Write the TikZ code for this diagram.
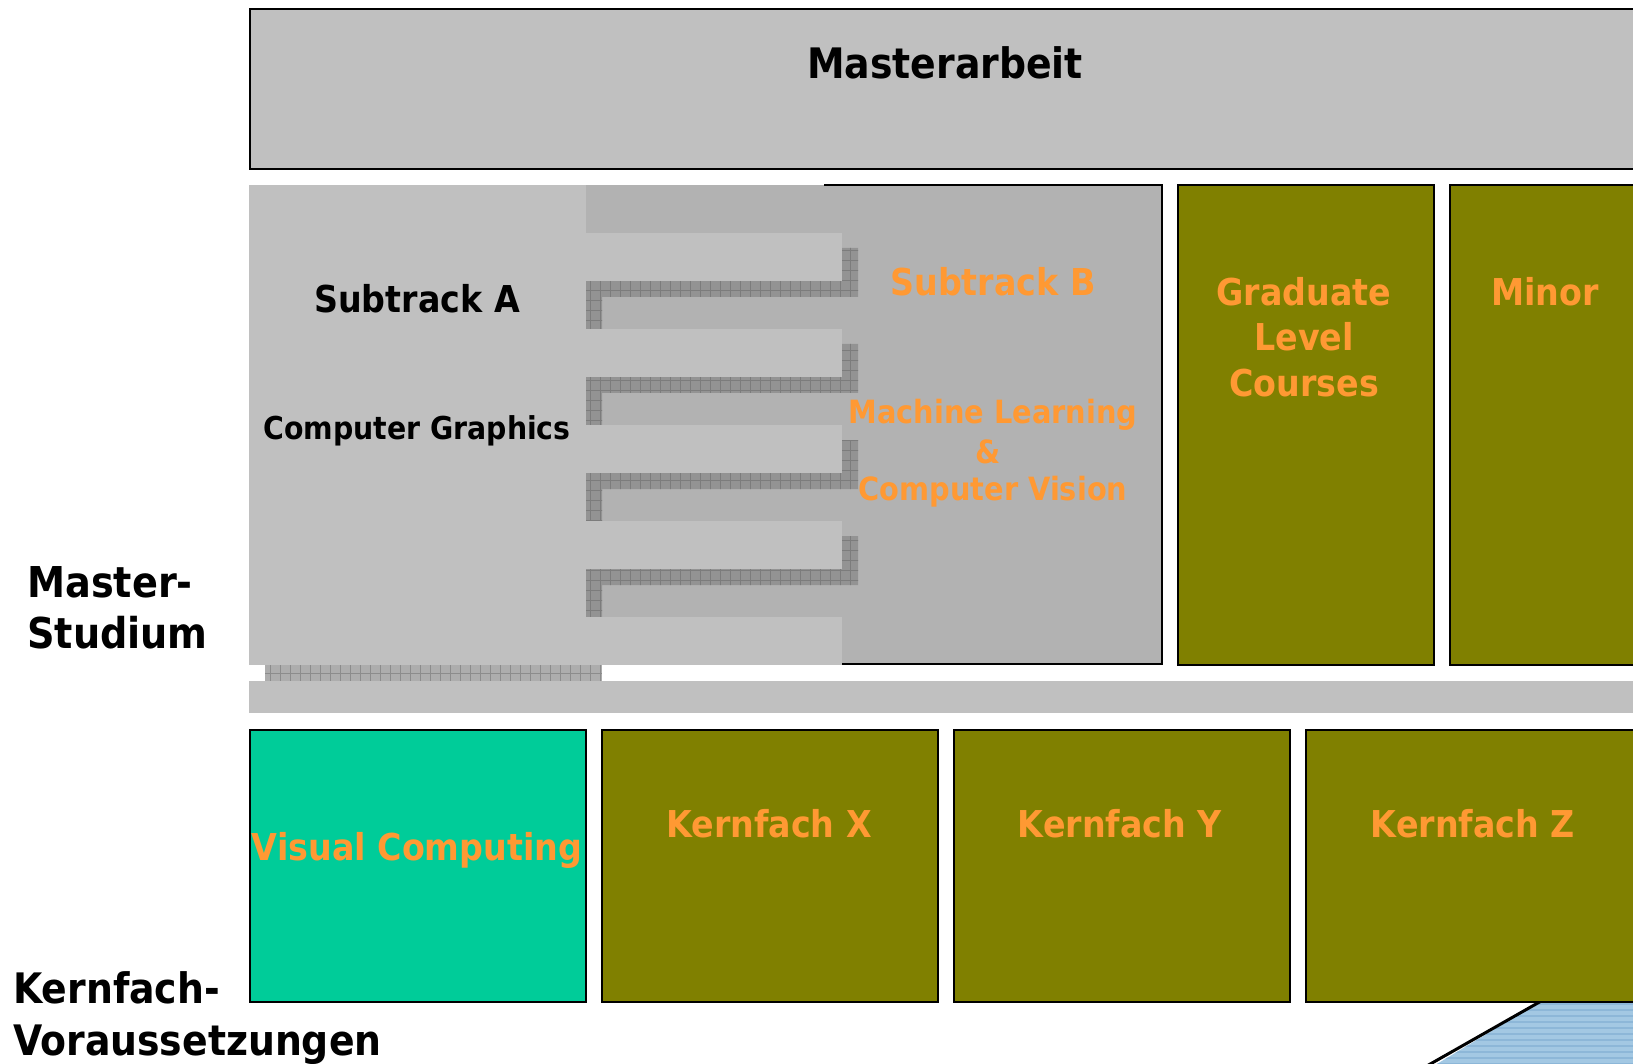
\documentclass[tikz,border=0pt]{standalone}
\usepackage{fontspec}
\newfontfamily\labfont[FakeStretch=0.9,BoldFont={DejaVu Sans Bold}]{DejaVu Sans}
\definecolor{panelgray}{HTML}{C0C0C0}
\definecolor{trackb}{HTML}{B2B2B2}
\definecolor{olivebox}{HTML}{808000}
\definecolor{tealbox}{HTML}{00CC99}
\definecolor{labelorange}{HTML}{FF9933}
\definecolor{shadowgray}{HTML}{939393}
\definecolor{shadowline}{HTML}{7C7C7C}
\definecolor{stripgray}{HTML}{ADADAD}
\definecolor{stripline}{HTML}{8C8C8C}
\definecolor{wedgeblue}{HTML}{A3C8E3}
\definecolor{wedgestripe}{HTML}{8DB7D8}

% L-shaped hatched shadow below and right of a comb finger whose top edge is at #1
\newcommand\fingershadow[1]{%
  \begin{scope}
    \path[clip] (586,#1+48) rectangle (602,#1+96)
                (602,#1+48) rectangle (858,#1+64)
                (842,#1+15) rectangle (858,#1+48);
    \fill[shadowgray] (580,#1) rectangle (870,#1+100);
    \draw[shadowline, line width=0.7pt, step=10pt] (580,#1) grid (870,#1+100);
  \end{scope}}

\tikzset{
  box/.style={draw=black, line width=1.6pt, anchor=north west, inner sep=0pt},
  lab/.style={font=\labfont\bfseries\fontsize{#1}{#1}\selectfont, inner sep=0pt, anchor=base},
  darklab/.style={lab=#1, text=black},
  orangelab/.style={lab=#1, text=labelorange},
  finger/.style={fill=panelgray},
}

\begin{document}
\begin{tikzpicture}[x=1pt,y=-1pt]
\path[use as bounding box] (0,0) rectangle (1633,1064);
\clip (0,0) rectangle (1633,1064);
\fill[white] (0,0) rectangle (1633,1064);

% blue wedge at the lower right
\begin{scope}
  \path[clip] (1541,1001) -- (1640,1001) -- (1640,1070) -- (1427,1070) -- cycle;
  \fill[wedgeblue] (1420,995) rectangle (1640,1070);
  \foreach \s in {1004,1010,...,1066}
    \draw[wedgestripe, line width=2pt] (1420,\s) -- (1640,\s);
\end{scope}
\draw[black, line width=3pt] (1543,1000) -- (1425,1067);

% thesis
\node[box, fill=panelgray, minimum width=1391pt, minimum height=160pt] (thesisbox) at (249,8) {};
\node[darklab=42] (thesis) at (945,79) {Masterarbeit};

% subtrack B area and its frame
\fill[trackb] (586,185) rectangle (1162,664);
\draw[black, line width=1.6pt] (824,185) -- (1162,185) -- (1162,664) -- (824,664);

% subtrack A body and its interlocking fingers
\fill[panelgray] (249,185) rectangle (586,665);
\foreach \t in {233,329,425,521}
  \fingershadow{\t};
\foreach \t in {233,329,425,521,617}
  \fill[finger] (586,\t) rectangle (842,\t+48);
\draw[black, line width=1.6pt] (842,664) -- (1162,664);

% hatched strip under subtrack A
\fill[stripgray] (265,665) rectangle (602,681);
\draw[stripline, line width=0.7pt] (265,673) -- (602,673);
\foreach \s in {270,280,...,600}
  \draw[stripline, line width=0.7pt] (\s,665) -- (\s,681);

\node[darklab=37] (suba) at (417,313) {Subtrack A};
\node[darklab=31.5] (subacg) at (417,439) {Computer Graphics};
\node[orangelab=37] (subb) at (993,296) {Subtrack B};
\node[orangelab=32] (subbml) at (993,423) {Machine Learning};
\node[orangelab=32] (subbamp) at (988,463) {\&};
\node[orangelab=32] (subbcv) at (993,500) {Computer Vision};

% graduate courses and minor
\node[box, fill=olivebox, minimum width=256pt, minimum height=480pt] (gradbox) at (1177,184) {};
\node[orangelab=37] (grad1) at (1304,306) {Graduate};
\node[orangelab=37] (grad2) at (1304,351) {Level};
\node[orangelab=37] (grad3) at (1304,396) {Courses};
\node[box, fill=olivebox, minimum width=200pt, minimum height=480pt] (minorbox) at (1449,184) {};
\node[orangelab=37] (minor) at (1545,306) {Minor};

% separating bar
\fill[panelgray] (249,681) rectangle (1640,713);

% core subjects
\node[box, fill=tealbox, minimum width=336pt, minimum height=272pt] (vcbox) at (249,729) {};
\node[box, fill=olivebox, minimum width=336pt, minimum height=272pt] (kxbox) at (601,729) {};
\node[box, fill=olivebox, minimum width=336pt, minimum height=272pt] (kybox) at (953,729) {};
\node[box, fill=olivebox, minimum width=336pt, minimum height=272pt] (kzbox) at (1305,729) {};
\node[orangelab=37] (vc) at (417,860) {Visual Computing};
\node[orangelab=37] (kx) at (769,837) {Kernfach X};
\node[orangelab=37] (ky) at (1120,837) {Kernfach Y};
\node[orangelab=37] (kz) at (1473,837) {Kernfach Z};

% row captions
\node[darklab=42.5, anchor=base west] (ms1) at (27,597) {Master-};
\node[darklab=42.5, anchor=base west] (ms2) at (27,648) {Studium};
\node[darklab=42, anchor=base west] (kv1) at (13,1003) {Kernfach-};
\node[darklab=42, anchor=base west] (kv2) at (13,1055) {Voraussetzungen};
\end{tikzpicture}
\end{document}
